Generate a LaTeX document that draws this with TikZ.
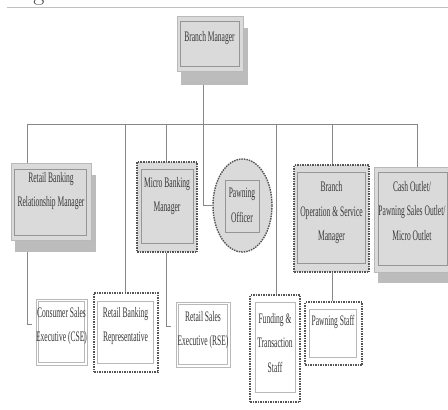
\documentclass[tikz,border=0pt]{standalone}
\usepackage{fontspec}
\usetikzlibrary{calc,shapes.geometric}
\newfontfamily\condfont[FakeStretch=0.52]{Liberation Serif}
\definecolor{boxgray}{RGB}{218,218,218}
\definecolor{shdgray}{RGB}{188,188,188}
\definecolor{framegray}{RGB}{150,150,150}
\definecolor{edgegray}{RGB}{185,185,185}
\definecolor{dashgray}{RGB}{85,85,85}
\definecolor{linegray}{RGB}{135,135,135}
\definecolor{txtgray}{RGB}{55,55,55}
\tikzset{
  shd/.style={fill=shdgray,draw=none},
  frontbox/.style={fill=boxgray,draw=edgegray,line width=0.6pt},
  whitebox/.style={fill=white,draw=edgegray,line width=0.8pt},
  dashbox/.style={draw=dashgray,line width=1.4pt,dash pattern=on 1.5pt off 1pt},
  innerframe/.style={draw=framegray,line width=0.9pt},
  innerlight/.style={draw=edgegray,line width=0.9pt},
  conn/.style={draw=linegray,line width=0.9pt},
  lbl/.style={align=center,text=txtgray,inner sep=0pt,font=\condfont\fontsize{14.5}{24.5}\selectfont},
}
\begin{document}
\begin{tikzpicture}[x=1pt,y=-1pt]
\useasboundingbox (0,0) rectangle (448,410);
\fill[white] (0,0) rectangle (448,410);
% top rule and clipped heading letter
\node[anchor=base,inner sep=0pt,font=\fontsize{24}{24}\selectfont,text=black!80] (gtop) at (39,0) {g};
\coordinate (ruleL) at (7,7);
\coordinate (ruleR) at (448,7);
\draw[draw=black!25,line width=0.8pt] (ruleL) -- (ruleR);

% ---- Branch Manager
\node[shd,minimum width=67pt,minimum height=57pt] (BMs) at (214.5,56.5) {};
\node[frontbox,minimum width=66pt,minimum height=55pt] (BM) at (210,43.5) {};
\draw[innerframe] ($(BM.north west)+(4,6)$) rectangle ($(BM.south east)+(-4,-5)$);
\node[lbl] (BMt) at (209.5,38) {Branch Manager};

% ---- bus
\coordinate (busL) at (27,124);
\coordinate (busR) at (417,124);
\coordinate (bmdrop) at (203,124);
\draw[conn] (busL) -- (busR);
\draw[conn] (bmdrop |- BMs.south) -- (bmdrop);

% ---- Retail Banking Relationship Manager
\node[shd,minimum width=81pt,minimum height=77pt] (RBs) at (55.5,213.5) {};
\node[frontbox,minimum width=80pt,minimum height=77pt] (RB) at (51,201.5) {};
\draw[innerframe] ($(RB.north west)+(4,7)$) rectangle ($(RB.south east)+(-5,-5)$);
\node[lbl] (RBt) at (51,191) {Retail Banking\\Relationship Manager};

% ---- Consumer Sales Executive
\node[whitebox,minimum width=51pt,minimum height=66pt] (CSE) at (61.5,332) {};
\draw[innerlight] ($(CSE.north west)+(3,3)$) rectangle ($(CSE.south east)+(-3,-3)$);
\node[lbl] (CSEt) at (61.5,326) {Consumer Sales\\Executive (CSE)};
\coordinate (cseIn) at (32,324);
\draw[conn] (busL) -- (busL |- RB.north);
\draw[conn] (busL |- RBs.south) |- (cseIn);

% ---- Retail Banking Representative
\coordinate (repX) at (125,124);
\node[dashbox,fill=white,minimum width=64pt,minimum height=79pt] (REP) at (126,332.5) {};
\draw[innerlight] ($(REP.north west)+(4,9)$) rectangle ($(REP.south east)+(-5,-9)$);
\node[lbl] (REPt) at (125.5,326) {Retail Banking\\Representative};
\draw[conn] (repX) -- (repX |- REP.north);

% ---- Micro Banking Manager
\coordinate (mbX) at (166,124);
\node[dashbox,fill=boxgray,minimum width=60pt,minimum height=90pt] (MB) at (167,207) {};
\draw[innerframe] ($(MB.north west)+(5,8)$) rectangle ($(MB.south east)+(-4,-9)$);
\node[lbl] (MBt) at (167,196) {Micro Banking\\Manager};
\draw[conn] (mbX) -- (mbX |- MB.north);

% ---- Retail Sales Executive
\node[whitebox,minimum width=54pt,minimum height=65pt] (RSE) at (203,334.5) {};
\draw[innerlight] ($(RSE.north west)+(3,3)$) rectangle ($(RSE.south east)+(-3,-3)$);
\node[lbl] (RSEt) at (203,330) {Retail Sales\\Executive (RSE)};
\coordinate (rseIn) at (171,326);
\draw[conn] (mbX |- MB.south) |- (rseIn);

% ---- Pawning Officer
\node[ellipse,dashbox,fill=boxgray,minimum width=59pt,minimum height=93pt,inner sep=0pt] (PO) at (242.5,205.5) {};
\draw[innerframe] (225,180) rectangle (259,232);
\node[lbl] (POt) at (242,205.5) {Pawning\\Officer};
\coordinate (poBend) at (203,205.5);
\draw[conn] (bmdrop) -- (poBend) -- (PO.west);

% ---- Funding & Transaction Staff
\coordinate (ftX) at (276,124);
\node[dashbox,fill=white,minimum width=50pt,minimum height=107pt] (FT) at (275,348.5) {};
\draw[innerlight] ($(FT.north west)+(6,8)$) rectangle ($(FT.south east)+(-5,-10)$);
\node[lbl] (FTt) at (275,343) {Funding \&\\Transaction\\Staff};
\draw[conn] (ftX) -- (ftX |- FT.north);

% ---- Branch Operation & Service Manager
\coordinate (boX) at (332,124);
\node[dashbox,fill=boxgray,minimum width=75pt,minimum height=107pt] (BO) at (331.5,218.5) {};
\draw[innerframe] ($(BO.north west)+(4,8)$) rectangle ($(BO.south east)+(-4,-9)$);
\node[lbl] (BOt) at (331.5,213) {Branch\\Operation \& Service\\Manager};
\draw[conn] (boX) -- (boX |- BO.north);

% ---- Pawning Staff
\node[dashbox,fill=white,minimum width=57pt,minimum height=63pt] (PS) at (333.5,333.5) {};
\draw[innerlight] ($(PS.north west)+(5,8)$) rectangle ($(PS.south east)+(-6,-8)$);
\node[lbl] (PSt) at (333,322) {Pawning Staff};
\draw[conn] (boX |- BO.south) -- (boX |- PS.north);

% ---- Cash Outlet
\node[shd,minimum width=74pt,minimum height=103pt] (COs) at (415,231.5) {};
\node[frontbox,minimum width=78pt,minimum height=105pt] (CO) at (413,219.5) {};
\draw[innerframe] ($(CO.north west)+(5,6)$) rectangle ($(CO.south east)+(-5,-7)$);
\node[lbl] (COt) at (412,211) {Cash Outlet/\\Pawning Sales Outlet/\\Micro Outlet};
\draw[conn] (busR) -- (busR |- CO.north);
\end{tikzpicture}
\end{document}
